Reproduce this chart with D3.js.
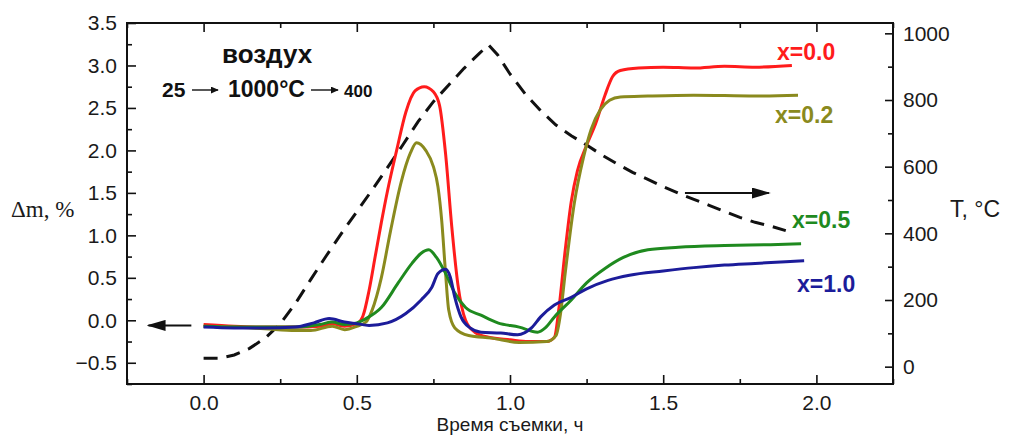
<!DOCTYPE html>
<html>
<head>
<meta charset="utf-8">
<script src="https://cdn.jsdelivr.net/npm/d3@7"></script>
<style>
  body { margin: 0; background: #fff; }
  svg { display: block; }
  .axis text { font-family: "Liberation Sans", Arial, sans-serif; font-size: 21px; fill: #1a1a1a; }
  .axis line { stroke: #111; stroke-width: 1.6; }
  .axis path { display: none; }
</style>
</head>
<body>
<svg id="chart" width="1009" height="435"></svg>
<script>
// temperature program (right axis)
const timeT = [0, 0.05, 0.10, 0.15, 0.20, 0.25, 0.30, 0.35, 0.40, 0.45, 0.50, 0.55, 0.60, 0.65, 0.70, 0.75, 0.80, 0.85, 0.90, 0.93, 0.96, 1.00, 1.05, 1.10, 1.15, 1.20, 1.25, 1.30, 1.35, 1.40, 1.45, 1.50, 1.55, 1.60, 1.65, 1.70, 1.75, 1.80, 1.85, 1.90];
const tempC = [25, 25, 35, 55, 85, 128, 190, 262, 332, 400, 465, 530, 597, 665, 735, 795, 845, 895, 940, 965, 935, 878, 818, 768, 725, 693, 665, 635, 608, 583, 562, 540, 520, 502, 484, 466, 448, 433, 422, 408];

// mass change, %
const timeX00 = [0, 0.1, 0.2, 0.3, 0.38, 0.42, 0.46, 0.5, 0.52, 0.54, 0.56, 0.58, 0.6, 0.63, 0.66, 0.69, 0.72, 0.75, 0.77, 0.79, 0.81, 0.83, 0.855, 0.885, 0.93, 1.0, 1.06, 1.12, 1.145, 1.16, 1.18, 1.2, 1.22, 1.25, 1.28, 1.31, 1.335, 1.36, 1.42, 1.5, 1.6, 1.7, 1.8, 1.92];
const dmX00 = [-0.05, -0.07, -0.08, -0.08, -0.07, -0.04, -0.07, -0.04, 0.05, 0.35, 0.75, 1.15, 1.52, 2.0, 2.45, 2.7, 2.75, 2.69, 2.53, 1.95, 1.1, 0.42, 0.0, -0.14, -0.2, -0.23, -0.25, -0.25, -0.2, 0.15, 0.82, 1.4, 1.76, 2.06, 2.32, 2.65, 2.87, 2.94, 2.97, 2.98, 2.97, 2.99, 2.98, 3.0];

const timeX02 = [0, 0.1, 0.2, 0.3, 0.35, 0.42, 0.46, 0.5, 0.53, 0.55, 0.58, 0.61, 0.645, 0.675, 0.695, 0.725, 0.75, 0.765, 0.777, 0.789, 0.8, 0.82, 0.865, 0.94, 1.03, 1.12, 1.15, 1.165, 1.18, 1.21, 1.24, 1.265, 1.295, 1.325, 1.36, 1.45, 1.6, 1.8, 1.94];
const dmX02 = [-0.07, -0.08, -0.1, -0.12, -0.12, -0.07, -0.11, -0.07, -0.02, 0.12, 0.5, 1.05, 1.63, 1.97, 2.09, 2.0, 1.81, 1.57, 1.18, 0.59, 0.12, -0.09, -0.18, -0.21, -0.26, -0.25, -0.18, 0.08, 0.55, 1.38, 1.92, 2.25, 2.48, 2.59, 2.63, 2.64, 2.65, 2.64, 2.65];

const timeX05 = [0, 0.1, 0.2, 0.3, 0.38, 0.42, 0.46, 0.5, 0.53, 0.58, 0.635, 0.68, 0.71, 0.735, 0.76, 0.79, 0.82, 0.855, 0.905, 0.96, 1.03, 1.09, 1.115, 1.145, 1.2, 1.25, 1.31, 1.37, 1.45, 1.55, 1.7, 1.85, 1.95];
const dmX05 = [-0.07, -0.08, -0.08, -0.08, -0.05, -0.02, -0.05, -0.03, 0.02, 0.15, 0.44, 0.67, 0.79, 0.83, 0.74, 0.55, 0.32, 0.15, 0.06, -0.03, -0.08, -0.14, -0.09, 0.04, 0.24, 0.44, 0.61, 0.74, 0.83, 0.86, 0.88, 0.89, 0.90];

const timeX10 = [0, 0.1, 0.2, 0.3, 0.36, 0.41, 0.46, 0.5, 0.54, 0.6, 0.66, 0.71, 0.745, 0.765, 0.79, 0.805, 0.82, 0.84, 0.87, 0.905, 0.97, 1.025, 1.07, 1.1, 1.145, 1.2, 1.25, 1.32, 1.39, 1.5, 1.6, 1.7, 1.8, 1.9, 1.96];
const dmX10 = [-0.08, -0.09, -0.09, -0.08, -0.03, 0.02, -0.02, -0.04, -0.06, -0.03, 0.08, 0.24, 0.39, 0.55, 0.6, 0.51, 0.27, 0.04, -0.09, -0.14, -0.15, -0.17, -0.09, 0.04, 0.18, 0.27, 0.37, 0.47, 0.53, 0.58, 0.62, 0.65, 0.67, 0.69, 0.70];

const seriesNames = ['x=0.0', 'x=0.2', 'x=0.5', 'x=1.0'];
const xTicks = [0, 0.5, 1.0, 1.5, 2.0];
const dmTicks = [-0.5, 0, 0.5, 1.0, 1.5, 2.0, 2.5, 3.0, 3.5];
const tTicks = [0, 200, 400, 600, 800, 1000];

const svg = d3.select('#chart');
const W = 1009, H = 435;
const plot = { left: 127, right: 893, top: 23, bottom: 384 };

svg.append('rect').attr('width', W).attr('height', H).attr('fill', '#fff');

const x = d3.scaleLinear().domain([-0.25, 2.25]).range([plot.left, plot.right]);
const yL = d3.scaleLinear().domain([-0.75, 3.5]).range([plot.bottom, plot.top]);
const yR = d3.scaleLinear().domain([-52, 1031]).range([plot.bottom, plot.top]);

// minor ticks
const minorX = d3.range(-0.25, 2.26, 0.25).filter(v => Math.abs(v * 2 - Math.round(v * 2)) > 0.01);
const minorL = d3.range(-0.75, 3.5, 0.25).filter(v => Math.abs(v * 2 - Math.round(v * 2)) > 0.01);
const minorR = [100, 300, 500, 700, 900];

const axes = svg.append('g').attr('class', 'axis');
axes.append('g').attr('transform', `translate(0,${plot.bottom})`)
  .call(d3.axisBottom(x).tickValues(xTicks).tickFormat(d3.format('.1f')).tickSizeInner(-9).tickSizeOuter(0).tickPadding(11));
axes.append('g').attr('transform', `translate(0,${plot.bottom})`)
  .call(d3.axisBottom(x).tickValues(minorX).tickFormat('').tickSizeInner(-5).tickSizeOuter(0));
axes.append('g').attr('transform', `translate(0,${plot.top})`)
  .call(d3.axisTop(x).tickValues(xTicks).tickFormat('').tickSizeInner(-9).tickSizeOuter(0));
axes.append('g').attr('transform', `translate(0,${plot.top})`)
  .call(d3.axisTop(x).tickValues(minorX).tickFormat('').tickSizeInner(-5).tickSizeOuter(0));
axes.append('g').attr('transform', `translate(${plot.left},0)`)
  .call(d3.axisLeft(yL).tickValues(dmTicks).tickFormat(d3.format('.1f')).tickSizeInner(-9).tickSizeOuter(0).tickPadding(10));
axes.append('g').attr('transform', `translate(${plot.left},0)`)
  .call(d3.axisLeft(yL).tickValues(minorL).tickFormat('').tickSizeInner(-5).tickSizeOuter(0));
axes.append('g').attr('transform', `translate(${plot.right},0)`)
  .call(d3.axisRight(yR).tickValues(tTicks).tickFormat(d3.format('d')).tickSizeInner(-8).tickSizeOuter(0).tickPadding(10));
axes.append('g').attr('transform', `translate(${plot.right},0)`)
  .call(d3.axisRight(yR).tickValues(minorR).tickFormat('').tickSizeInner(-5).tickSizeOuter(0));

// frame
svg.append('rect')
  .attr('x', plot.left).attr('y', plot.top)
  .attr('width', plot.right - plot.left).attr('height', plot.bottom - plot.top)
  .attr('fill', 'none').attr('stroke', '#111').attr('stroke-width', 2);

// temperature line
const tLine = d3.line().x(d => x(d[0])).y(d => yR(d[1]));
svg.append('path')
  .datum(d3.zip(timeT, tempC))
  .attr('d', tLine)
  .attr('fill', 'none').attr('stroke', '#111').attr('stroke-width', 3)
  .attr('stroke-dasharray', '14,9');

// mass change curves
const mLine = d3.line().x(d => x(d[0])).y(d => yL(d[1])).curve(d3.curveMonotoneX);
const colors = ['#ff1c1c', '#8a8a1e', '#1f8a1f', '#1c1c9a'];
const series = [
  d3.zip(timeX00, dmX00),
  d3.zip(timeX02, dmX02),
  d3.zip(timeX05, dmX05),
  d3.zip(timeX10, dmX10)
];
svg.append('g').selectAll('path')
  .data(series)
  .join('path')
  .attr('d', mLine)
  .attr('fill', 'none')
  .attr('stroke', (d, i) => colors[i])
  .attr('stroke-width', 3)
  .attr('stroke-linejoin', 'round');

// series labels
const labelPos = [[777, 60], [775, 123], [792, 228], [797, 292]];
svg.append('g').selectAll('text')
  .data(seriesNames)
  .join('text')
  .attr('x', (d, i) => labelPos[i][0])
  .attr('y', (d, i) => labelPos[i][1])
  .attr('fill', (d, i) => colors[i])
  .style('font', 'bold 23px "Liberation Sans", Arial, sans-serif')
  .text(d => d);

// arrow markers
const defs = svg.append('defs');
const addHead = (id, w, h) => defs.append('marker')
  .attr('id', id)
  .attr('viewBox', '0 0 10 10')
  .attr('refX', 9).attr('refY', 5)
  .attr('markerWidth', w).attr('markerHeight', h)
  .attr('markerUnits', 'userSpaceOnUse')
  .attr('orient', 'auto')
  .attr('preserveAspectRatio', 'none')
  .append('path').attr('d', 'M0,0 L10,5 L0,10 Z').attr('fill', '#111');
addHead('arrowHead', 19, 11);
addHead('smallHead', 8, 7);

// left arrow -> Δm axis
svg.append('line')
  .attr('x1', x(-0.04)).attr('y1', yL(-0.06))
  .attr('x2', x(-0.18)).attr('y2', yL(-0.06))
  .attr('stroke', '#111').attr('stroke-width', 2)
  .attr('marker-end', 'url(#arrowHead)');
// right arrow -> T axis
svg.append('line')
  .attr('x1', x(1.571)).attr('y1', yR(521))
  .attr('x2', x(1.845)).attr('y2', yR(521))
  .attr('stroke', '#111').attr('stroke-width', 2)
  .attr('marker-end', 'url(#arrowHead)');

// axis titles
svg.append('text')
  .attr('x', 11).attr('y', 217)
  .style('font', '23px "Liberation Serif", "Times New Roman", serif')
  .attr('fill', '#1a1a1a')
  .text('Δm, %');
svg.append('text')
  .attr('x', 950).attr('y', 217)
  .style('font', '23px "Liberation Sans", Arial, sans-serif')
  .attr('fill', '#1a1a1a')
  .text('T, °C');
svg.append('text')
  .attr('x', (plot.left + plot.right) / 2).attr('y', 431)
  .attr('text-anchor', 'middle')
  .style('font', '19px "Liberation Sans", Arial, sans-serif')
  .attr('fill', '#1a1a1a')
  .text('Время съемки, ч');

// annotation
svg.append('text')
  .attr('x', 222).attr('y', 63)
  .style('font', 'bold 26px "Liberation Sans", Arial, sans-serif')
  .attr('fill', '#111')
  .text('воздух');
const progFont = '"Liberation Sans", Arial, sans-serif';
svg.append('text').attr('x', 162).attr('y', 97).attr('fill', '#111')
  .style('font', `bold 21px ${progFont}`).text('25');
svg.append('text').attr('x', 228).attr('y', 97).attr('fill', '#111')
  .style('font', `bold 23px ${progFont}`).text('1000°C');
svg.append('text').attr('x', 344).attr('y', 97).attr('fill', '#111')
  .style('font', `bold 17px ${progFont}`).text('400');
[[192, 218], [311, 338]].forEach(([a, b]) => {
  svg.append('line')
    .attr('x1', a).attr('y1', 90).attr('x2', b).attr('y2', 90)
    .attr('stroke', '#111').attr('stroke-width', 1.4)
    .attr('marker-end', 'url(#smallHead)');
});
</script>
</body>
</html>
